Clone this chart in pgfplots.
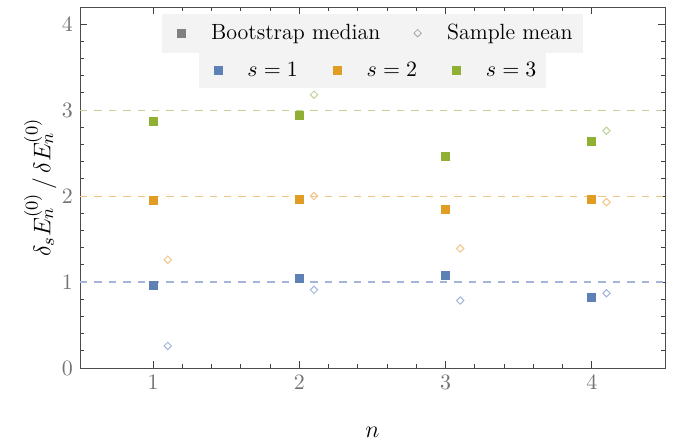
\documentclass[border=0pt]{standalone}
\usepackage{pgfplots}
\pgfplotsset{compat=1.18}
\definecolor{cb}{HTML}{5E81B5}
\definecolor{co}{HTML}{E19C24}
\definecolor{cg}{HTML}{8FB032}
\definecolor{cbl}{HTML}{A3B5DA}
\definecolor{col}{HTML}{F0C68A}
\definecolor{cgl}{HTML}{BFD39A}
\definecolor{lgbg}{HTML}{F3F3F3}
\begin{document}
\begin{tikzpicture}
\pgfplotsset{
  common/.style={
    scale only axis, width=292.5pt, height=180.5pt,
    xmin=0.5, xmax=4.5, ymin=0, ymax=4.2,
  },
  sq/.style={only marks, color=#1, mark=square*, mark size=2pt, mark options={solid}},
  dm/.style={only marks, color=#1, mark=square, mark size=1.3pt, mark options={rotate=45, fill=white, line width=0.5pt}},
  limg/.style={legend image code/.code={\path (0pt,0pt) (19pt,0pt); \draw[##1] plot coordinates {(6.5pt,0pt)};}},
}
\begin{axis}[common,
  xtick={1,2,3,4}, ytick={0,1,2,3,4},
  minor x tick num=4, minor y tick num=4,
  tick align=inside, tick pos=both,
  major tick length=3.3pt, minor tick length=2.2pt,
  axis line style={black!70}, every tick/.style={black!75, line width=0.5pt},
  tick label style={text=black!55},
  font=\fontsize{10.7}{13}\selectfont,
  xlabel={$n$}, ylabel={$\delta_s E_n^{(0)}\,/\,\delta E_n^{(0)}$},
  x label style={at={(axis description cs:0.5,-0.177)}, anchor=center, font=\fontsize{12.5}{15}\selectfont},
  y label style={at={(axis description cs:-0.068,0.5)}, anchor=center, font=\fontsize{12.5}{15}\selectfont},
  legend columns=2,
  legend style={at={(axis description cs:0.5,0.983)}, anchor=north, draw=none, fill=lgbg,
    inner xsep=3pt, inner ysep=3.2pt,
    font=\fontsize{11}{13.5}\selectfont,
    /tikz/every even column/.append style={column sep=10pt}},
]
\addlegendimage{limg, only marks, color=black!50, mark=square*, mark size=2pt}
\addlegendentry{Bootstrap median}
\addlegendimage{limg, only marks, color=black!35, mark=square, mark size=1.3pt, mark options={rotate=45}}
\addlegendentry{Sample mean}
% reference lines
\addplot[cbl, dash pattern=on 3.7pt off 3.5pt, line width=0.6pt, forget plot] coordinates {(0.5,1) (4.5,1)};
\addplot[col, dash pattern=on 3.7pt off 3.5pt, line width=0.6pt, forget plot] coordinates {(0.5,2) (4.5,2)};
\addplot[cgl, dash pattern=on 3.7pt off 3.5pt, line width=0.6pt, forget plot] coordinates {(0.5,3) (4.5,3)};
% bootstrap medians
\addplot[sq=cb, forget plot] coordinates {(1,0.96) (2,1.04) (3,1.08) (4,0.82)};
\addplot[sq=co, forget plot] coordinates {(1,1.95) (2,1.96) (3,1.85) (4,1.96)};
\addplot[sq=cg, forget plot] coordinates {(1,2.87) (2,2.94) (3,2.46) (4,2.64)};
% sample means
\addplot[dm=cbl, forget plot] coordinates {(1.1,0.257) (2.1,0.91) (3.1,0.785) (4.1,0.87)};
\addplot[dm=col, forget plot] coordinates {(1.1,1.26) (2.1,2.0) (3.1,1.39) (4.1,1.93)};
\addplot[dm=cgl, forget plot] coordinates {(2.1,3.18) (4.1,2.76)};
\end{axis}
\begin{axis}[common, hide axis,
  legend columns=3,
  legend style={at={(axis description cs:0.5,0.873)}, anchor=north, draw=none, fill=lgbg,
    inner xsep=3pt, inner ysep=2.4pt,
    font=\fontsize{11}{13.5}\selectfont,
    /tikz/every even column/.append style={column sep=11pt}},
]
\addlegendimage{limg, sq=cb}
\addlegendentry{$s=1$}
\addlegendimage{limg, sq=co}
\addlegendentry{$s=2$}
\addlegendimage{limg, sq=cg}
\addlegendentry{$s=3$}
\end{axis}
\pgfresetboundingbox
\path (-40pt,-38.5pt) rectangle (300.5pt,184pt);
\end{tikzpicture}
\end{document}
